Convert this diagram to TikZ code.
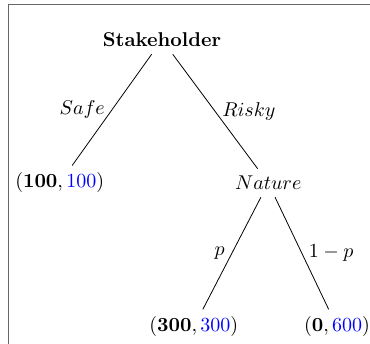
\documentclass[tikz,border=0pt]{standalone}
\usepackage{amsmath,amssymb}
\usepackage{tikz}
\usetikzlibrary{arrows}
\usetikzlibrary{calc}
\definecolor{myframe}{HTML}{666666}

\begin{document}
\begin{tikzpicture}[thick,
  player node/.style={font=\bfseries},
  payoff node/.style={},
  tree edge/.style={draw=black,thin}]

\useasboundingbox (-2.85,-5.34) rectangle (3.66,0.70);
\clip (-2.85,-5.34) rectangle (3.66,0.70);
\draw[myframe,line width=0.6pt] (-2.70,-5.6) -- (-2.70,0.615) -- (3.9,0.615);

  \node[player node] (stake) at (0,0) {Stakeholder};
  \node[payoff node] (safe) at (-1.8,-2.52) {$(\mathbf{100},{\color{blue}100})$};
  \node (nature) at (1.87,-2.52) {$Nature$};
  \node[payoff node] (win) at (0.56,-5.05) {$(\mathbf{300},{\color{blue}300})$};
  \node[payoff node] (lose) at (3.08,-5.05) {$(\mathbf{0},{\color{blue}600})$};

  \path
(stake)	edge [tree edge] node [left] {$Safe$} (safe)
	edge [tree edge] node [right] {$Risky$} (nature)
(nature)	edge [tree edge] node [left] {$p$} (win)
	edge [tree edge] node [right] {$1-p$} (lose)

;
\end{tikzpicture}
\end{document}
